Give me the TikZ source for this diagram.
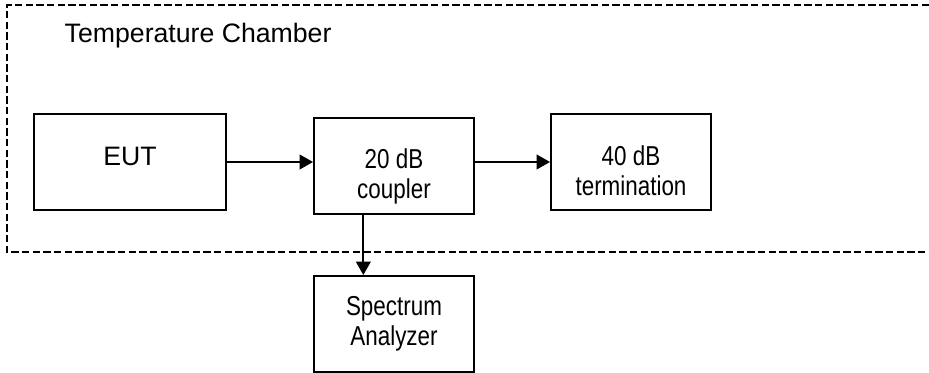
\documentclass[tikz,border=0pt]{standalone}
\usepackage{fontspec}
\setmainfont{Liberation Sans}
\newfontfamily\narrowfont[FakeStretch=0.82]{Liberation Sans}
\usetikzlibrary{arrows.meta}

\begin{document}
\begin{tikzpicture}[x=0.75pt,y=-0.75pt,
    box/.style={draw, line width=1.5pt, minimum width=120pt, minimum height=72pt,
        align=center, inner sep=0pt, font=\narrowfont\fontsize{20.5}{22.5}\selectfont},
    arr/.style={line width=1.3pt, -{Triangle[length=10pt,width=11pt]}}]
        \useasboundingbox (0,0) rectangle (929,373);

        % chamber outline (open on the right)
        \draw[line width=1.6pt, dash pattern=on 5.5pt off 2.5pt] (929,5) -- (7,5) -- (7,252) -- (929,252);
        \node[anchor=base west, font=\fontsize{20}{22.5}\selectfont] (chamber) at (60,43) {Temperature Chamber};

        % blocks
        \node[box, minimum width=144pt, font=\fontsize{20}{22.5}\selectfont,
            text height=16pt, text depth=10pt] (eut) at (130,162) {EUT};
        \node[box, text height=52pt, text depth=2.5pt] (coupler) at (394,166) {20 dB\\coupler};
        \node[box, text height=54pt, text depth=3pt] (term) at (631,162) {40 dB\\termination};
        \node[box, text height=36pt, text depth=3pt] (spec) at (394,324) {Spectrum\\Analyzer};

        % connections
        \draw[arr] (eut.east) -- (eut.east -| coupler.west);
        \draw[arr] (coupler.east |- term.west) -- (term.west);
        \draw[arr] ([xshift=-23pt]coupler.south) -- ([xshift=-23pt]coupler.south |- spec.north);
    \end{tikzpicture}
\end{document}
